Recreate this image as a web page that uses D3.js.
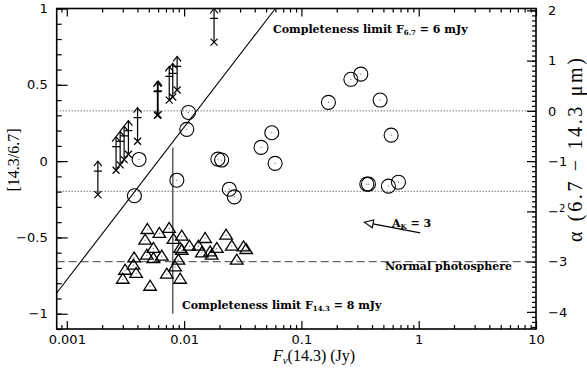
<!DOCTYPE html>
<html>
<head>
<meta charset="utf-8">
<script src="https://cdn.jsdelivr.net/npm/d3@7/dist/d3.min.js"></script>
<style>
  body { margin: 0; background: #fff; }
  svg { display: block; }
  .tick text { font-family: "DejaVu Sans", sans-serif; font-size: 13px; fill: #000; }
  .lbl { font-family: "DejaVu Serif", serif; font-weight: bold; font-size: 11px; fill: #000; }
</style>
</head>
<body>
<svg id="chart" width="587" height="371"></svg>
<script>
// ---- data -------------------------------------------------------------
// Sources with only a lower limit on the colour (x + upward arrow)
const limitFlux  = [0.00184, 0.00263, 0.00285, 0.00308, 0.00335, 0.00401, 0.00592, 0.00600, 0.00747, 0.00800, 0.00872, 0.0180];
const limitColor = [-0.22, -0.06, -0.025, 0.01, 0.045, 0.13, 0.30, 0.305, 0.40, 0.42, 0.466, 0.78];

// Sources with mid-IR excess (open circles)
const circFlux  = [0.00413, 0.00377, 0.00867, 0.0109, 0.01054, 0.0194, 0.0209, 0.0243, 0.0268, 0.0453, 0.0559, 0.0597,
                   0.170, 0.264, 0.321, 0.361, 0.373, 0.469, 0.552, 0.582, 0.672];
const circColor = [0.011, -0.227, -0.125, 0.319, 0.208, 0.013, 0.007, -0.184, -0.234, 0.09, 0.186, -0.015,
                   0.385, 0.536, 0.570, -0.151, -0.151, 0.40, -0.164, 0.17, -0.138];

// Photospheric sources (open triangles)
const triFlux  = [0.00486, 0.00615, 0.00745, 0.00465, 0.00811, 0.00955, 0.00547, 0.00925, 0.0111, 0.0151, 0.01324,
                  0.0228, 0.0255, 0.0321, 0.0338, 0.0190, 0.01666, 0.01416, 0.00955, 0.00481, 0.00645, 0.00375,
                  0.00547, 0.0281, 0.00894, 0.0037, 0.00838, 0.00314, 0.0039, 0.00712, 0.00925, 0.00300, 0.00513, 0.0172];
const triColor = [-0.448, -0.474, -0.441, -0.518, -0.513, -0.492, -0.572, -0.572, -0.557, -0.507, -0.557,
                  -0.485, -0.557, -0.562, -0.579, -0.572, -0.595, -0.601, -0.584, -0.616, -0.623, -0.634,
                  -0.638, -0.649, -0.649, -0.682, -0.693, -0.715, -0.736, -0.741, -0.774, -0.774, -0.820, -0.616];

// Reference values
const completeness67  = 0.006;   // Jy, F6.7 limit -> diagonal line
const completeness143 = 0.008;   // Jy, F14.3 limit -> vertical line
const completeness143Top = 0.09; // colour where the vertical line stops
const classAlphas = [0, -1.6];   // dotted boundaries, in alpha
const photosphereAlpha = -3;     // dashed line, in alpha
const extFlux  = [1.03, 0.343];  // A_K = 3 reddening vector (tail, head)
const extColor = [-0.47, -0.40];

// Axis ticks
const xTickValues = [0.001, 0.01, 0.1, 1, 10];
const xTickLabels = ["0.001", "0.01", "0.1", "1", "10"];
const yTickValues = [-1, -0.5, 0, 0.5, 1];
const yTickLabels = ["\u22121", "\u22120.5", "0", "0.5", "1"];
const aTickValues = [-4, -3, -2, -1, 0, 1, 2];
const aTickLabels = ["\u22124", "\u22123", "\u22122", "\u22121", "0", "1", "2"];

// ---- scales -------------------------------------------------------------
const L = 56.7, R = 536, T = 8.5, B = 329;
const lambdaLog = Math.log10(14.3 / 6.7);
const yDomain = [-1.1, 1];
const x = d3.scaleLog().domain([0.00082, 10]).range([L, R]);
const y = d3.scaleLinear().domain(yDomain).range([B, T]);
const toAlpha = v => v / lambdaLog - 1;
const ya = d3.scaleLinear().domain(yDomain.map(toAlpha)).range([B, T]);

const svg = d3.select("#chart");

// minor tick positions
const xMinor = [];
for (let d = -4; d <= 0; d++) for (let k = 2; k <= 9; k++) {
  const v = k * Math.pow(10, d);
  if (v >= x.domain()[0] && v <= x.domain()[1]) xMinor.push(v);
}
const yMinor = d3.range(-11, 11).map(i => i / 10);
const aMinor = d3.range(-43, 21).map(i => i / 10);

function fmt(values, labels) { return v => labels[values.indexOf(v)]; }

// bottom axis
svg.append("g").attr("transform", `translate(0,${B})`)
  .call(d3.axisBottom(x).tickValues(xMinor).tickSize(-4).tickFormat(""));
svg.append("g").attr("transform", `translate(0,${B})`)
  .call(d3.axisBottom(x).tickValues(xTickValues).tickSize(-8).tickPadding(6)
        .tickFormat(fmt(xTickValues, xTickLabels)));
// top axis
svg.append("g").attr("transform", `translate(0,${T})`)
  .call(d3.axisTop(x).tickValues(xMinor).tickSize(-4).tickFormat(""));
svg.append("g").attr("transform", `translate(0,${T})`)
  .call(d3.axisTop(x).tickValues(xTickValues).tickSize(-8).tickFormat(""));
// left axis
svg.append("g").attr("transform", `translate(${L},0)`)
  .call(d3.axisLeft(y).tickValues(yMinor).tickSize(-5).tickFormat(""));
svg.append("g").attr("transform", `translate(${L},0)`)
  .call(d3.axisLeft(y).tickValues(yTickValues).tickSize(-11).tickPadding(9)
        .tickFormat(fmt(yTickValues, yTickLabels)));
// right axis (alpha)
svg.append("g").attr("transform", `translate(${R},0)`)
  .call(d3.axisRight(ya).tickValues(aMinor).tickSize(-4).tickFormat(""));
const aAxis = svg.append("g").attr("transform", `translate(${R},0)`)
  .call(d3.axisRight(ya).tickValues(aTickValues).tickSize(-9).tickPadding(12)
        .tickFormat(fmt(aTickValues, aTickLabels)));
// the "2" of the -2 label sits raised and small
aAxis.selectAll(".tick text").filter(d => d === -2).each(function () {
  const t = d3.select(this);
  t.text(null);
  t.append("tspan").text("\u2212");
  t.append("tspan").attr("font-size", "10px").attr("dy", -4).text("2");
});

svg.selectAll(".domain").remove();
svg.selectAll(".tick line").attr("stroke", "#000").attr("stroke-width", 1.2);

// frame
svg.append("rect").attr("x", L).attr("y", T).attr("width", R - L).attr("height", B - T)
  .attr("fill", "none").attr("stroke", "#000").attr("stroke-width", 1.6);

const plot = svg.append("g");
svg.append("clipPath").attr("id", "clip").append("rect")
  .attr("x", L).attr("y", T).attr("width", R - L).attr("height", B - T);
plot.attr("clip-path", "url(#clip)");

// class boundaries (dotted)
plot.selectAll(".cls").data(classAlphas).join("line")
  .attr("x1", L).attr("x2", R)
  .attr("y1", d => ya(d)).attr("y2", d => ya(d))
  .attr("stroke", "#333").attr("stroke-width", 1).attr("stroke-dasharray", "1,2");

// normal photosphere (dashed)
plot.append("line")
  .attr("x1", L).attr("x2", R)
  .attr("y1", ya(photosphereAlpha)).attr("y2", ya(photosphereAlpha))
  .attr("stroke", "#666").attr("stroke-width", 1.4).attr("stroke-dasharray", "8,4");

// F6.7 completeness: [14.3/6.7] = log10(F14.3 / F6.7,lim)
const diagX = [x.domain()[0], completeness67 * Math.pow(10, yDomain[1])];
plot.append("path")
  .attr("d", d3.line()(diagX.map(f => [x(f), y(Math.log10(f / completeness67))])))
  .attr("fill", "none").attr("stroke", "#000").attr("stroke-width", 1.1);

// F14.3 completeness (vertical)
plot.append("line")
  .attr("x1", x(completeness143)).attr("x2", x(completeness143))
  .attr("y1", y(-1)).attr("y2", y(completeness143Top))
  .attr("stroke", "#666").attr("stroke-width", 1.6);

// triangles
const triG = plot.append("g");
triFlux.forEach((f, i) => {
  const cx = x(f), cy = y(triColor[i]);
  triG.append("path")
    .attr("d", `M${cx - 6.3},${cy + 4} L${cx + 6.3},${cy + 4} L${cx},${cy - 6} Z`)
    .attr("fill", "none").attr("stroke", "#000").attr("stroke-width", 1.3);
  triG.append("circle").attr("cx", cx).attr("cy", cy).attr("r", 0.6).attr("fill", "#666");
});

// circles
const cirG = plot.append("g");
circFlux.forEach((f, i) => {
  const cx = x(f), cy = y(circColor[i]);
  cirG.append("circle").attr("cx", cx).attr("cy", cy).attr("r", 7)
    .attr("fill", "none").attr("stroke", "#000").attr("stroke-width", 1.1);
  cirG.append("circle").attr("cx", cx).attr("cy", cy).attr("r", 0.6).attr("fill", "#666");
});

// lower limits
const limG = plot.append("g").attr("stroke", "#000").attr("stroke-width", 1.2).attr("fill", "none");
const arrowLen = 0.22, barOff = 0.155;
limitFlux.forEach((f, i) => {
  const cx = x(f), cy = y(limitColor[i]);
  const tip = y(limitColor[i] + arrowLen), bar = y(limitColor[i] + barOff);
  limG.append("path").attr("d", `M${cx - 3.5},${cy - 3.5} L${cx + 3.5},${cy + 3.5} M${cx - 3.5},${cy + 3.5} L${cx + 3.5},${cy - 3.5}`);
  limG.append("line").attr("x1", cx).attr("x2", cx).attr("y1", cy).attr("y2", tip);
  limG.append("path").attr("d", `M${cx - 4},${tip + 5} L${cx},${tip} L${cx + 4},${tip + 5}`);
  limG.append("line").attr("x1", cx - 4).attr("x2", cx + 4).attr("y1", bar).attr("y2", bar);
});

// reddening vector
const ex0 = [x(extFlux[0]), y(extColor[0])], ex1 = [x(extFlux[1]), y(extColor[1])];
const ang = Math.atan2(ex1[1] - ex0[1], ex1[0] - ex0[0]);
const hl = 9, hw = 4;
const bx = ex1[0] - hl * Math.cos(ang), by = ex1[1] - hl * Math.sin(ang);
plot.append("line").attr("x1", ex0[0]).attr("y1", ex0[1]).attr("x2", bx).attr("y2", by)
  .attr("stroke", "#000").attr("stroke-width", 1.1);
plot.append("path")
  .attr("d", `M${ex1[0]},${ex1[1]} L${bx + hw * Math.sin(ang)},${by - hw * Math.cos(ang)} L${bx - hw * Math.sin(ang)},${by + hw * Math.cos(ang)} Z`)
  .attr("fill", "none").attr("stroke", "#000").attr("stroke-width", 1.1);

// annotations
const t1 = svg.append("text").attr("class", "lbl").attr("x", 273).attr("y", 33);
t1.append("tspan").text("Completeness limit F");
t1.append("tspan").attr("font-size", "7px").attr("dy", 2).text("6.7");
t1.append("tspan").attr("dy", -2).text(" = 6 mJy");

const t2 = svg.append("text").attr("class", "lbl").attr("x", 182).attr("y", 309);
t2.append("tspan").text("Completeness limit F");
t2.append("tspan").attr("font-size", "7px").attr("dy", 2).text("14.3");
t2.append("tspan").attr("dy", -2).text(" = 8 mJy");

svg.append("text").attr("class", "lbl").attr("x", 385).attr("y", 270).text("Normal photosphere");

const t3 = svg.append("text").attr("class", "lbl").attr("x", 392).attr("y", 227);
t3.append("tspan").text("A");
t3.append("tspan").attr("font-size", "7px").attr("dy", 2).text("K");
t3.append("tspan").attr("dy", -2).text(" = 3");

// axis titles
const xt = svg.append("text").attr("x", 314).attr("y", 361).attr("text-anchor", "middle")
  .style("font-family", "'Liberation Serif', serif").style("font-size", "16px");
xt.append("tspan").style("font-style", "italic").text("F");
xt.append("tspan").style("font-style", "italic").attr("font-size", "11px").attr("dy", 3).text("\u03bd");
xt.append("tspan").attr("dy", -3).text("(14.3)  (Jy)");

svg.append("text").attr("transform", "translate(19,160) rotate(-90)").attr("text-anchor", "middle")
  .style("font-family", "'Liberation Serif', serif").style("font-size", "16px").text("[14.3/6.7]");

svg.append("text").attr("transform", "translate(582,150) rotate(-90)").attr("text-anchor", "middle")
  .attr("textLength", 184).attr("lengthAdjust", "spacing")
  .style("font-family", "'Liberation Serif', serif").style("font-size", "20px")
  .text("\u03b1 (6.7 \u2212 14.3 \u03bcm)");
</script>
</body>
</html>
